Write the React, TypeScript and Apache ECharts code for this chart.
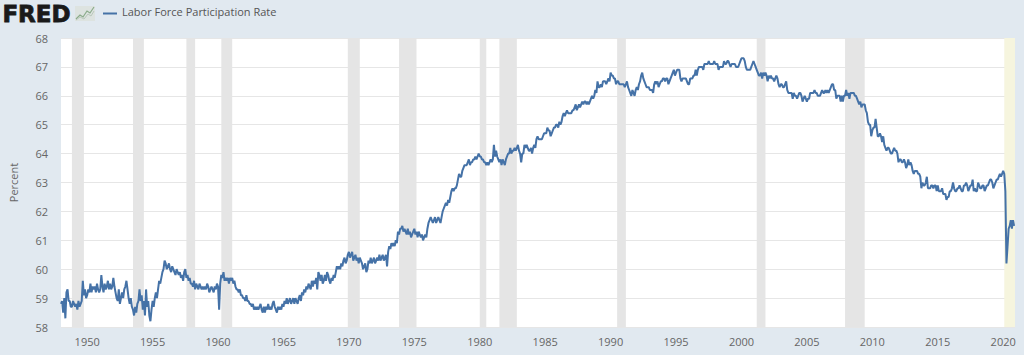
import React, { useEffect, useRef } from "react";
import * as echarts from "echarts";

// Civilian labor force participation rate, monthly, percent
const START_YEAR = 1948;
const LFPR_1940S = [
  58.8, 58.9, 58.5, 59.0, 58.3, 59.2, 59.3, 58.9, 58.9, 58.7, 58.7, 58.9,
  58.8, 58.7, 58.8, 58.6, 58.9, 58.7, 58.8, 58.9, 59.6, 59.1, 59.3, 59.0,
];
const LFPR_1950S = [
  59.1, 59.3, 59.2, 59.5, 59.2, 59.4, 59.3, 59.4, 59.2, 59.5, 59.3, 59.2,
  59.3, 59.8, 59.4, 59.2, 59.5, 59.3, 59.4, 59.6, 59.3, 59.5, 59.3, 59.4,
  59.7, 59.4, 59.2, 59.0, 58.9, 59.3, 58.8, 59.0, 59.2, 59.0, 59.3, 59.4,
  59.6, 59.3, 59.0, 58.8, 59.0, 58.7, 58.6, 58.4, 58.7, 58.5, 58.8, 58.9,
  59.3, 58.9, 59.1, 58.6, 58.9, 58.4, 59.3, 58.7, 58.9, 58.4, 58.2, 58.6,
  58.9, 58.7, 59.0, 59.2, 59.0, 59.3, 59.6, 59.5, 59.7, 59.9, 60.0, 60.3,
  60.2, 60.0, 60.1, 60.2, 60.0, 59.9, 60.1, 60.0, 59.9, 59.8, 60.0, 59.9,
  59.8, 59.9, 59.7, 59.8, 59.6, 59.9, 60.0, 59.7, 59.8, 59.6, 59.7, 59.5,
  59.5, 59.4, 59.6, 59.3, 59.5, 59.4, 59.3, 59.5, 59.4, 59.3, 59.4, 59.3,
  59.4, 59.3, 59.5, 59.4, 59.2, 59.3, 59.4, 59.3, 59.2, 59.4, 59.3, 59.5,
];
const LFPR_1960S = [
  59.4, 58.6, 59.5, 59.8, 59.7, 59.9, 59.6, 59.7, 59.6, 59.7, 59.5, 59.7,
  59.6, 59.7, 59.5, 59.6, 59.4, 59.3, 59.3, 59.2, 59.3, 59.1, 59.1, 59.0,
  59.0, 58.9, 59.1, 58.9, 58.9, 58.8, 58.8, 58.7, 58.8, 58.6, 58.7, 58.6,
  58.7, 58.6, 58.7, 58.8, 58.6, 58.5, 58.7, 58.5, 58.7, 58.6, 58.8, 58.6,
  58.7, 58.6, 58.8, 58.9, 58.7, 58.6, 58.5, 58.7, 58.6, 58.7, 58.6, 58.8,
  58.7, 58.9, 58.8, 59.0, 58.8, 58.9, 59.0, 58.8, 58.9, 59.0, 58.8, 59.0,
  58.9, 58.8, 59.0, 59.1, 58.9, 59.2, 59.1, 59.3, 59.2, 59.4, 59.3, 59.5,
  59.4, 59.3, 59.6, 59.4, 59.6, 59.5, 59.7, 59.3, 59.9, 59.8, 59.6, 59.8,
  59.5, 59.6, 59.8, 59.6, 59.9, 59.8, 59.6, 59.5, 59.7, 59.6, 59.8, 59.7,
  59.9, 60.1, 60.0, 60.1, 60.0, 60.2, 60.1, 60.3, 60.4, 60.2, 60.3, 60.5,
];
const LFPR_1970S = [
  60.6, 60.4, 60.5, 60.6, 60.3, 60.4, 60.5, 60.3, 60.4, 60.2, 60.4, 60.3,
  60.2, 60.0, 60.1, 60.2, 59.9, 60.0, 60.3, 60.2, 60.4, 60.2, 60.3, 60.4,
  60.2, 60.3, 60.4, 60.3, 60.5, 60.3, 60.4, 60.5, 60.3, 60.4, 60.5, 60.1,
  60.6, 60.8, 60.7, 60.9, 60.8, 60.9, 60.8, 61.0, 60.9, 61.3, 61.2, 61.4,
  61.4, 61.5, 61.3, 61.4, 61.3, 61.2, 61.4, 61.2, 61.3, 61.1, 61.2, 61.3,
  61.4, 61.2, 61.3, 61.1, 61.3, 61.2, 61.1, 61.2, 61.0, 61.1, 61.2, 61.1,
  61.4, 61.6, 61.7, 61.8, 61.7, 61.6, 61.7, 61.8, 61.6, 61.7, 61.8, 61.7,
  61.6, 61.8, 62.0, 62.1, 62.2, 62.3, 62.2, 62.4, 62.3, 62.5, 62.7, 62.8,
  62.7, 62.8, 62.8, 62.9, 63.1, 63.3, 63.2, 63.2, 63.4, 63.5, 63.6, 63.6,
  63.6, 63.7, 63.8, 63.6, 63.7, 63.7, 63.8, 63.8, 63.9, 63.8, 63.9, 64.0,
];
const LFPR_1980S = [
  63.9, 63.9, 63.8, 63.8, 63.7, 63.7, 63.6, 63.7, 63.6, 63.7, 63.8, 63.7,
  63.8, 64.3, 63.9, 64.1, 63.9, 63.8, 63.7, 63.8, 63.6, 63.8, 63.7, 63.6,
  63.8, 63.9, 64.0, 64.0, 64.2, 64.0, 64.1, 64.1, 64.2, 64.1, 64.2, 64.3,
  64.1, 64.0, 63.7, 64.0, 64.0, 64.3, 64.2, 64.3, 64.2, 64.1, 64.1, 64.2,
  64.0, 64.2, 64.3, 64.2, 64.5, 64.6, 64.5, 64.5, 64.5, 64.5, 64.6, 64.7,
  64.7, 64.7, 64.9, 64.8, 64.8, 64.6, 64.7, 64.8, 64.9, 64.9, 65.0, 65.0,
  64.9, 65.1, 65.0, 65.1, 65.3, 65.4, 65.3, 65.4, 65.5, 65.4, 65.4, 65.4,
  65.4, 65.5, 65.5, 65.6, 65.7, 65.5, 65.6, 65.7, 65.6, 65.7, 65.8, 65.7,
  65.8, 65.8, 65.7, 65.8, 65.7, 65.8, 65.9, 66.0, 65.9, 66.0, 66.2, 66.1,
  66.5, 66.3, 66.3, 66.4, 66.3, 66.5, 66.5, 66.5, 66.4, 66.5, 66.6, 66.5,
];
const LFPR_1990S = [
  66.8, 66.7, 66.7, 66.6, 66.6, 66.4, 66.5, 66.5, 66.4, 66.4, 66.4, 66.4,
  66.4, 66.3, 66.4, 66.5, 66.3, 66.2, 66.1, 66.0, 66.2, 66.1, 66.0, 66.2,
  66.3, 66.2, 66.4, 66.5, 66.7, 66.8, 66.6, 66.5, 66.4, 66.3, 66.3, 66.3,
  66.2, 66.2, 66.2, 66.1, 66.4, 66.5, 66.4, 66.5, 66.3, 66.4, 66.5, 66.5,
  66.6, 66.6, 66.5, 66.6, 66.6, 66.4, 66.5, 66.6, 66.7, 66.8, 66.9, 66.7,
  66.8, 66.9, 66.9, 66.9, 66.6, 66.5, 66.6, 66.6, 66.6, 66.6, 66.5, 66.4,
  66.4, 66.6, 66.6, 66.6, 66.7, 66.7, 66.9, 66.7, 66.9, 67.0, 67.0, 67.0,
  67.0, 66.9, 67.1, 67.1, 67.1, 67.1, 67.2, 67.1, 67.1, 67.1, 67.1, 67.2,
  67.1, 67.1, 67.1, 66.9, 67.0, 67.0, 67.0, 67.0, 67.2, 67.1, 67.1, 67.2,
  67.2, 67.1, 67.0, 67.1, 67.1, 67.1, 67.1, 67.0, 67.0, 67.0, 67.1, 67.2,
];
const LFPR_2000S = [
  67.3, 67.3, 67.3, 67.2, 67.0, 66.9, 66.9, 66.9, 66.9, 67.0, 67.1, 67.2,
  67.1, 67.0, 66.9, 66.8, 66.7, 66.7, 66.8, 66.6, 66.8, 66.7, 66.8, 66.7,
  66.5, 66.7, 66.6, 66.7, 66.6, 66.6, 66.5, 66.6, 66.7, 66.6, 66.4, 66.3,
  66.4, 66.4, 66.3, 66.3, 66.4, 66.5, 66.2, 66.1, 66.1, 66.1, 66.1, 65.9,
  66.1, 66.0, 66.0, 65.9, 66.0, 66.1, 66.1, 66.0, 65.8, 65.9, 66.0, 65.9,
  65.8, 65.9, 65.9, 66.1, 66.1, 66.1, 66.1, 66.2, 66.1, 66.1, 66.0, 66.0,
  66.0, 66.1, 66.2, 66.1, 66.1, 66.2, 66.1, 66.2, 66.1, 66.2, 66.3, 66.4,
  66.4, 66.2, 66.2, 65.9, 66.0, 66.0, 66.0, 65.8, 66.0, 65.8, 66.0, 66.0,
  66.2, 66.0, 66.1, 65.9, 66.1, 66.1, 66.1, 66.1, 66.0, 66.0, 65.9, 65.8,
  65.7, 65.8, 65.6, 65.7, 65.7, 65.7, 65.5, 65.4, 65.1, 65.0, 65.0, 64.6,
];
const LFPR_2010S = [
  64.8, 64.9, 64.9, 65.2, 64.9, 64.6, 64.6, 64.7, 64.6, 64.4, 64.6, 64.3,
  64.2, 64.1, 64.2, 64.2, 64.1, 64.0, 64.0, 64.1, 64.2, 64.1, 64.1, 64.0,
  63.7, 63.8, 63.8, 63.7, 63.7, 63.8, 63.7, 63.5, 63.6, 63.8, 63.6, 63.7,
  63.6, 63.4, 63.3, 63.4, 63.4, 63.4, 63.3, 63.3, 63.2, 62.8, 63.0, 62.9,
  62.9, 63.0, 63.2, 62.8, 62.8, 62.8, 62.9, 62.9, 62.8, 62.9, 62.9, 62.7,
  62.9, 62.7, 62.7, 62.7, 62.8, 62.6, 62.6, 62.6, 62.4, 62.5, 62.5, 62.7,
  62.7, 62.8, 63.0, 62.8, 62.7, 62.7, 62.8, 62.8, 62.9, 62.8, 62.7, 62.7,
  62.9, 62.9, 63.0, 62.9, 62.7, 62.8, 62.9, 62.9, 63.1, 62.7, 62.8, 62.7,
  62.7, 63.0, 62.9, 62.8, 62.8, 62.9, 62.9, 62.7, 62.8, 62.9, 62.9, 63.0,
  63.1, 63.1, 63.0, 62.8, 62.9, 63.0, 63.1, 63.1, 63.2, 63.3, 63.2, 63.3,
];
const LFPR_2020S = [63.4, 63.3, 62.7, 60.2, 60.8, 61.4, 61.5, 61.7, 61.4, 61.7, 61.5];

// Recessions as [start, end] in decimal years (month index / 12)
const RECESSIONS: [number, number][] = [
  [1948 + 10 / 12, 1949 + 9 / 12],
  [1953 + 6 / 12, 1954 + 4 / 12],
  [1957 + 7 / 12, 1958 + 3 / 12],
  [1960 + 3 / 12, 1961 + 1 / 12],
  [1969 + 11 / 12, 1970 + 10 / 12],
  [1973 + 10 / 12, 1975 + 2 / 12],
  [1980 + 0 / 12, 1980 + 6 / 12],
  [1981 + 6 / 12, 1982 + 10 / 12],
  [1990 + 6 / 12, 1991 + 2 / 12],
  [2001 + 2 / 12, 2001 + 10 / 12],
  [2007 + 11 / 12, 2009 + 5 / 12],
];
const CURRENT_RECESSION: [number, number] = [2020 + 1 / 12, 2020 + 11 / 12];

const X_LABELS = [1950, 1955, 1960, 1965, 1970, 1975, 1980, 1985, 1990, 1995, 2000, 2005, 2010, 2015, 2020];
const SERIES_NAME = "Labor Force Participation Rate";

export default function App() {
  const ref = useRef<HTMLDivElement>(null);

  useEffect(() => {
    if (!ref.current) return;
    const chart = echarts.init(ref.current, undefined, { renderer: "svg" });
    const all = [
      ...LFPR_1940S, ...LFPR_1950S, ...LFPR_1960S, ...LFPR_1970S, ...LFPR_1980S,
      ...LFPR_1990S, ...LFPR_2000S, ...LFPR_2010S, ...LFPR_2020S,
    ];
    const data = all.map((v, i) => [START_YEAR + i / 12, v]);
    const lastX = START_YEAR + (all.length - 1) / 12;

    const areas: any[] = RECESSIONS.map(([a, b]) => [
      { xAxis: a, itemStyle: { color: "#e5e5e5" } },
      { xAxis: b },
    ]);
    areas.push([
      { xAxis: CURRENT_RECESSION[0], itemStyle: { color: "#f6f5de" } },
      { xAxis: Math.max(CURRENT_RECESSION[1], lastX + 0.07) },
    ]);

    chart.setOption({
      animation: false,
      backgroundColor: "#e1e9f0",
      textStyle: { fontFamily: "Open Sans" },
      grid: {
        left: 60,
        right: 9,
        top: 38,
        bottom: 28,
        show: true,
        backgroundColor: "#ffffff",
        borderWidth: 0,
      },
      xAxis: {
        type: "value",
        min: 1948,
        max: lastX + 0.07,
        axisLine: { show: false },
        axisTick: { show: false },
        splitLine: { show: false },
        axisLabel: {
          customValues: X_LABELS,
          formatter: (v: number) => String(Math.round(v)),
          color: "#666666",
          fontSize: 11,
          margin: 9,
        },
      },
      yAxis: {
        type: "value",
        min: 58,
        max: 68,
        interval: 1,
        name: "Percent",
        nameLocation: "middle",
        nameGap: 42,
        nameTextStyle: { color: "#666666", fontSize: 11 },
        axisLine: { show: false },
        axisTick: { show: false },
        splitLine: { lineStyle: { color: "#e6e6e6", width: 1 } },
        axisLabel: { color: "#666666", fontSize: 11, margin: 13 },
      },
      series: [
        {
          name: SERIES_NAME,
          type: "line",
          data,
          symbol: "none",
          lineStyle: { color: "#4572a7", width: 2 },
          markArea: { silent: true, data: areas },
          z: 3,
        },
      ],
      graphic: [
        {
          type: "text",
          left: 2,
          top: 2,
          style: {
            text: "FRED",
            font: "900 23px 'DejaVu Sans'",
            fill: "#1a1a1a",
            stroke: "#1a1a1a",
            lineWidth: 0.8,
          },
        },
        {
          type: "rect",
          shape: { x: 75, y: 6, width: 20, height: 15 },
          style: { fill: "#dde3e0" },
        },
        {
          type: "polyline",
          shape: { points: [[76, 19], [80, 15], [83, 17], [87, 11], [90, 13], [94, 7]] },
          style: { stroke: "#8aab8a", lineWidth: 1.2, fill: "none" },
        },
        {
          type: "polyline",
          shape: { points: [[76, 20], [80, 17], [84, 19], [88, 14], [91, 16], [94, 11]] },
          style: { stroke: "#b9c8bb", lineWidth: 1, fill: "none" },
        },
        {
          type: "line",
          shape: { x1: 103, y1: 13.5, x2: 117, y2: 13.5 },
          style: { stroke: "#4572a7", lineWidth: 2 },
        },
        {
          type: "text",
          left: 122,
          top: 6,
          style: {
            text: SERIES_NAME,
            font: "11px 'Open Sans'",
            fill: "#555555",
          },
        },
      ],
    });
    return () => chart.dispose();
  }, []);

  return (
    <div
      ref={ref}
      style={{ position: "fixed", left: 0, top: 0, width: 1024, height: 355 }}
    />
  );
}
